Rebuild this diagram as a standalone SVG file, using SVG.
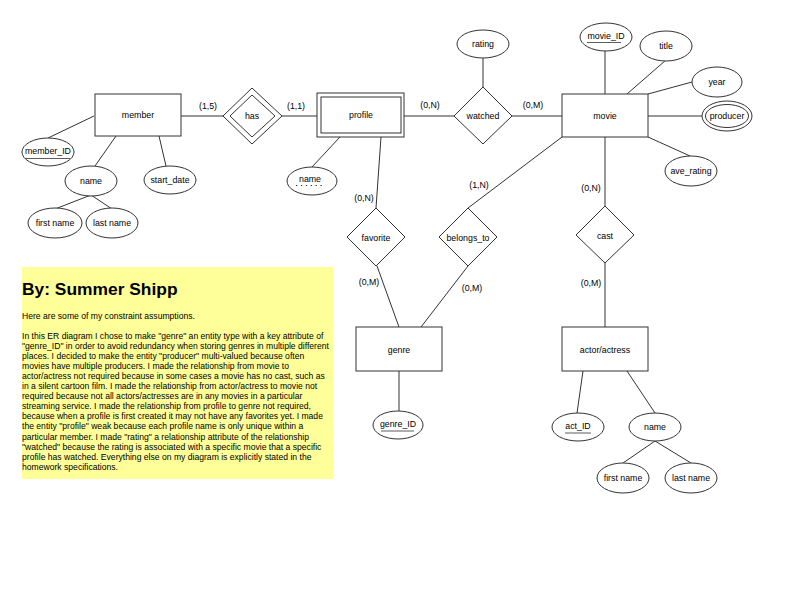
<svg xmlns="http://www.w3.org/2000/svg" width="792" height="612" viewBox="0 0 792 612">
<style>
text{font-family:"Liberation Sans",Arial,sans-serif;font-size:8.8px;fill:#000;text-anchor:middle;dominant-baseline:central}
.s{fill:#fff;stroke:#333;stroke-width:1}
.c line,.c polyline{stroke:#333;stroke-width:1;fill:none}
.u{stroke:#333;stroke-width:0.8}
.note text{text-anchor:start;dominant-baseline:alphabetic;font-size:8.6px}
</style>
<rect width="792" height="612" fill="#fff"/>
<g class="c" id="connectors">
<line x1="181" y1="116" x2="223" y2="116"/>
<line x1="282" y1="116" x2="317" y2="116"/>
<line x1="404" y1="116" x2="454" y2="116"/>
<line x1="512" y1="116" x2="562" y2="116"/>
<line x1="48" y1="138" x2="94" y2="116"/>
<line x1="116" y1="136" x2="95" y2="166"/>
<line x1="159" y1="136" x2="166" y2="166"/>
<line x1="91" y1="195" x2="55" y2="209"/>
<line x1="91" y1="195" x2="112" y2="209"/>
<line x1="340" y1="137" x2="312" y2="167"/>
<line x1="381" y1="137" x2="376" y2="208"/>
<line x1="483" y1="58" x2="483" y2="88"/>
<line x1="605" y1="51" x2="605" y2="94"/>
<line x1="666" y1="60" x2="627" y2="94"/>
<line x1="692" y1="82" x2="648" y2="94"/>
<line x1="648" y1="116" x2="702" y2="116"/>
<line x1="648" y1="137" x2="690" y2="156"/>
<line x1="562" y1="137" x2="468" y2="208"/>
<line x1="605" y1="137" x2="605" y2="206"/>
<line x1="605" y1="263" x2="605" y2="327"/>
<line x1="377" y1="266" x2="399" y2="327"/>
<line x1="468" y1="266" x2="421" y2="327"/>
<line x1="399" y1="371" x2="399" y2="411"/>
<line x1="583" y1="371" x2="577" y2="413"/>
<line x1="627" y1="371" x2="655" y2="413"/>
<line x1="655" y1="441" x2="623" y2="463"/>
<line x1="655" y1="441" x2="691" y2="463"/>
<text x="208" y="106">(1,5)</text>
<text x="296" y="106">(1,1)</text>
<text x="430" y="105">(0,N)</text>
<text x="533" y="105">(0,M)</text>
<text x="364" y="198">(0,N)</text>
<text x="479" y="185">(1,N)</text>
<text x="591" y="188">(0,N)</text>
<text x="369" y="282">(0,M)</text>
<text x="472" y="288">(0,M)</text>
<text x="591" y="283">(0,M)</text>
</g>
<g id="member"><rect class="s" x="95" y="94" width="86" height="42"/><text x="138" y="115">member</text></g>
<g id="member_ID"><ellipse class="s" cx="48" cy="152" rx="26" ry="14"/><text x="48" y="151">member_ID</text><line class="u" x1="25" y1="158.5" x2="70" y2="158.5"/></g>
<g id="member_name"><ellipse class="s" cx="91" cy="181" rx="26" ry="15"/><text x="91" y="181">name</text></g>
<g id="start_date"><ellipse class="s" cx="170" cy="180" rx="26" ry="14"/><text x="170" y="180">start_date</text></g>
<g id="member_first_name"><ellipse class="s" cx="55" cy="223" rx="27" ry="15"/><text x="55" y="223">first name</text></g>
<g id="member_last_name"><ellipse class="s" cx="112" cy="223" rx="26" ry="15"/><text x="112" y="223">last name</text></g>
<g id="has"><polygon class="s" points="252,88 282,116 252,144 223,116"/><polygon class="s" points="252,95 275,116 252,137 230,116"/><text x="252" y="116">has</text></g>
<g id="profile"><rect class="s" x="317" y="93" width="87" height="44"/><rect class="s" x="321" y="97" width="80" height="36"/><text x="361" y="115">profile</text></g>
<g id="profile_name"><ellipse class="s" cx="312" cy="181" rx="25" ry="14"/><text x="310" y="179">name</text><line x1="296" y1="185.5" x2="323" y2="185.5" stroke="#333" stroke-width="1.2" stroke-dasharray="1.3 3.6"/></g>
<g id="watched"><polygon class="s" points="483,87 512,116 483,144 454,116"/><text x="483" y="116">watched</text></g>
<g id="rating"><ellipse class="s" cx="483" cy="44" rx="26" ry="14"/><text x="483" y="44">rating</text></g>
<g id="movie"><rect class="s" x="562" y="94" width="86" height="43"/><text x="605" y="116">movie</text></g>
<g id="movie_ID"><ellipse class="s" cx="606" cy="37" rx="26" ry="14"/><text x="606" y="36">movie_ID</text><line class="u" x1="587" y1="42.5" x2="621" y2="42.5"/></g>
<g id="title"><ellipse class="s" cx="666" cy="46" rx="26" ry="15"/><text x="666" y="46">title</text></g>
<g id="year"><ellipse class="s" cx="717" cy="82" rx="25" ry="15"/><text x="717" y="82">year</text></g>
<g id="producer"><ellipse class="s" cx="727" cy="116" rx="25" ry="15"/><ellipse class="s" cx="727" cy="116" rx="21.5" ry="11.5"/><text x="727" y="116">producer</text></g>
<g id="ave_rating"><ellipse class="s" cx="691" cy="171" rx="26" ry="15"/><text x="691" y="171">ave_rating</text></g>
<g id="favorite"><polygon class="s" points="376,208 405,237 376,266 347,237"/><text x="376" y="238">favorite</text></g>
<g id="belongs_to"><polygon class="s" points="468,208 497,237 468,266 439,237"/><text x="468" y="238">belongs_to</text></g>
<g id="cast"><polygon class="s" points="605,206 634,235 605,263 576,235"/><text x="605" y="236">cast</text></g>
<g id="genre"><rect class="s" x="356" y="327" width="86" height="44"/><text x="399" y="350">genre</text></g>
<g id="genre_ID"><ellipse class="s" cx="398" cy="425" rx="25" ry="14"/><text x="398" y="424">genre_ID</text><line class="u" x1="381" y1="431" x2="414" y2="431"/></g>
<g id="actor_actress"><rect class="s" x="562" y="327" width="86" height="44"/><text x="605" y="350">actor/actress</text></g>
<g id="act_ID"><ellipse class="s" cx="578" cy="427" rx="26" ry="14"/><text x="578" y="426">act_ID</text><line class="u" x1="565" y1="433" x2="591" y2="433"/></g>
<g id="actor_name"><ellipse class="s" cx="655" cy="427" rx="26" ry="14"/><text x="655" y="427">name</text></g>
<g id="actor_first_name"><ellipse class="s" cx="623" cy="478" rx="26" ry="15"/><text x="623" y="478">first name</text></g>
<g id="actor_last_name"><ellipse class="s" cx="691" cy="478" rx="26" ry="15"/><text x="691" y="478">last name</text></g>
<g id="note" class="note">
<rect x="22" y="267" width="311" height="212" fill="#ffff99"/>
<text x="22" y="295" style="font-size:17.4px;font-weight:bold">By: Summer Shipp</text>
<text x="22" y="318.5">Here are some of my constraint assumptions.</text>
<text x="22" y="338.5">In this ER diagram I chose to make "genre" an entity type with a key attribute of</text>
<text x="22" y="348.6">"genre_ID" in order to avoid redundancy when storing genres in multiple different</text>
<text x="22" y="358.7">places. I decided to make the entity "producer" multi-valued because often</text>
<text x="22" y="368.8">movies have multiple producers. I made the relationship from movie to</text>
<text x="22" y="378.9">actor/actress not required because in some cases a movie has no cast, such as</text>
<text x="22" y="389">in a silent cartoon film. I made the relationship from actor/actress to movie not</text>
<text x="22" y="399.1">required because not all actors/actresses are in any movies in a particular</text>
<text x="22" y="409.2">streaming service. I made the relationship from profile to genre not required,</text>
<text x="22" y="419.3">because when a profile is first created it may not have any favorites yet. I made</text>
<text x="22" y="429.4">the entity "profile" weak because each profile name is only unique within a</text>
<text x="22" y="439.5">particular member. I made "rating" a relationship attribute of the relationship</text>
<text x="22" y="449.6">"watched" because the rating is associated with a specific movie that a specific</text>
<text x="22" y="459.7">profile has watched. Everything else on my diagram is explicitly stated in the</text>
<text x="22" y="469.8">homework specifications.</text>
</g>
</svg>
